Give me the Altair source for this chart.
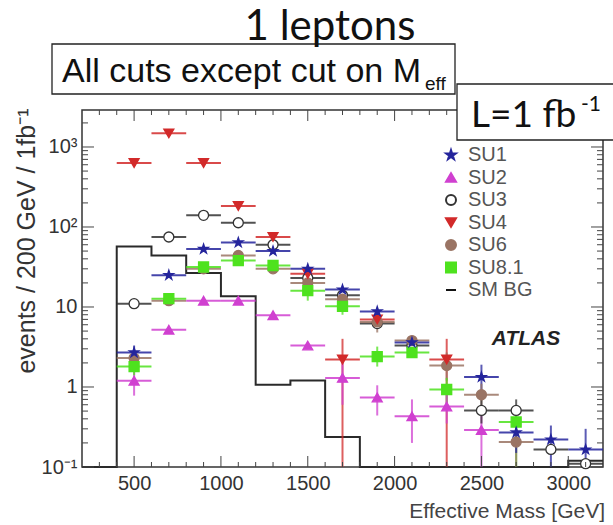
import altair as alt
import pandas as pd

# ---------------- data ----------------
bins = [500, 700, 900, 1100, 1300, 1500, 1700, 1900, 2100, 2300, 2500, 2700, 2900, 3100]
half_bin = 100

su1 = [2.7, 25, 53, 64, 50, 30, 16.5, 8.8, 3.6, None, 1.33, 0.27, 0.22, 0.165]
su2 = [1.2, 5.2, 12, 12, 7.9, 3.3, 1.3, 0.74, 0.43, 0.57, 0.29, None, None, None]
su3 = [11, 75, 140, 113, 60, 23, 14, 6.2, 3.3, None, 0.51, 0.51, 0.166, 0.11]
su4 = [630, 1480, 630, 183, 75, 26, 2.2, 7.0, None, 2.2, None, None, None, None]
su6 = [2.3, 12, 30, 44, 30, 20, 12.5, 6.5, 3.8, 1.85, 0.80, 0.205, None, None]
su81 = [1.8, 12.7, 31.6, 38, 33, 16, 10.2, 2.4, 2.7, 0.93, None, 0.365, None, None]

# vertical error bars: (series, bin centre, low, high)
verr_series = ["SU2", "SU1", "SU8.1", "SU8.1", "SU8.1", "SU4", "SU2", "SU6", "SU8.1", "SU2",
               "SU2", "SU4", "SU6", "SU8.1", "SU2", "SU1", "SU6", "SU2", "SU3", "SU3",
               "SU8.1", "SU6", "SU1", "SU1", "SU1"]
verr_x = [500, 500, 500, 1500, 1700, 1700, 1700, 1900, 1900, 1900,
          2100, 2300, 2300, 2300, 2300, 2500, 2500, 2500, 2500, 2700,
          2700, 2700, 2700, 2900, 3100]
verr_lo = [0.78, 2.2, 1.4, 12, 8, 0.1, 0.6, 4.8, 1.8, 0.44,
           0.2, 0.1, 1.2, 0.6, 0.35, 0.9, 0.5, 0.1, 0.35, 0.35,
           0.1, 0.1, 0.15, 0.1, 0.1]
verr_hi = [1.6, 3.3, 2.4, 21, 13, 4.0, 2.3, 8.5, 3.2, 1.05,
           0.7, 4.0, 2.7, 1.3, 0.9, 1.9, 1.1, 0.45, 0.75, 0.7,
           0.55, 0.3, 0.4, 0.33, 0.3]

# SM background histogram (bin edges, step-after)
bg_edges = [200, 400, 600, 800, 1000, 1200, 1400, 1600, 1800, 3000, 3200]
bg_values = [0.1, 57, 44, 26.6, 13.6, 1.07, 1.21, 0.237, 0.1, 0.12, 0.12]

series_names = ["SU1", "SU2", "SU3", "SU4", "SU6", "SU8.1", "SM BG"]
STAR = ("M0,-1L0.2245,-0.309L0.951,-0.309L0.363,0.118L0.588,0.809L0,0.382"
        "L-0.588,0.809L-0.363,0.118L-0.951,-0.309L-0.2245,-0.309Z")
shapes = [STAR, "triangle-up", "circle", "triangle-down", "circle", "square", "stroke"]
fills = ["#25259c", "#d040d0", "#ffffff", "#d22a2a", "#9a7464", "#4ee21e", "#111111"]
strokes = ["#25259c", "#d040d0", "#333333", "#d22a2a", "#9a7464", "#4ee21e", "#111111"]
sizes = [100, 100, 140, 100, 140, 130, 330]

x_major = [500, 1000, 1500, 2000, 2500, 3000]
x_minor = [v for v in range(300, 3200, 100) if v % 500 != 0]
y_major = [0.1, 1, 10, 100, 1000]
y_minor = [k * 10.0 ** e for e in range(-1, 4) for k in range(2, 10) if k * 10.0 ** e < 2900]

title_text = "1 leptons"
cut_text = "All cuts except cut on M"
cut_sub = "eff"
lumi_text = "L=1 fb"
lumi_sup = "-1"
ytitle_text = "events / 200 GeV / 1fb\u207b\u00b9"
xtitle_text = "Effective Mass [GeV]"
atlas_text = "ATLAS"

# ---------------- tables ----------------
draw_order = [("SU3", su3), ("SU6", su6), ("SU8.1", su81), ("SU2", su2), ("SU4", su4), ("SU1", su1)]
rows = []
for name, vals in draw_order:
    for b, v in zip(bins, vals):
        if v is not None:
            rows.append({"series": name, "x": b, "y": v, "xlo": b - half_bin, "xhi": b + half_bin})
pts = pd.DataFrame(rows)
verr = pd.DataFrame({"series": verr_series, "x": verr_x, "lo": verr_lo, "hi": verr_hi})
bg = pd.DataFrame({"x": bg_edges, "y": bg_values})

W, H = 521, 357

xscale = alt.Scale(domain=[200, 3200], nice=False, zero=False)
yscale = alt.Scale(type="log", domain=[0.1, 2900], nice=False)
xaxis = alt.Axis(values=x_major, title=None, ticks=False, domain=False, grid=False,
                 labelFont="Liberation Sans", labelFontSize=20, labelColor="#333",
                 labelPadding=6, format="d")
yaxis = alt.Axis(values=y_major, title=None, ticks=False, domain=False, grid=False,
                 labelFont="Liberation Sans", labelFontSize=20, labelColor="#333",
                 labelPadding=5,
                 labelExpr="datum.value >= 999 ? '10\u00b3' : datum.value >= 99 ? '10\u00b2' : "
                           "datum.value >= 9 ? '10' : datum.value >= 0.9 ? '1' : '10\u207b\u00b9'")

legend = alt.Legend(orient="none", legendX=359, legendY=35, title=None,
                    labelFont="Liberation Sans", labelFontSize=20, labelColor="#555",
                    rowPadding=2.5, labelOffset=7, symbolStrokeWidth=2, symbolOpacity=1,
                    padding=0)

def X(field):
    return alt.X(field, type="quantitative", scale=xscale, axis=xaxis)

def Y(field):
    return alt.Y(field, type="quantitative", scale=yscale, axis=yaxis)

stroke_enc = alt.Stroke("series:N", scale=alt.Scale(domain=series_names, range=strokes), legend=legend)

hist = alt.Chart(bg).mark_line(interpolate="step-after", color="#2a2a2a", strokeWidth=2).encode(
    x=X("x"), y=Y("y"))

herr = alt.Chart(pts).mark_rule(strokeWidth=2, opacity=0.85).encode(
    x=X("xlo"), x2="xhi", y=Y("y"), stroke=stroke_enc)

verr_layer = alt.Chart(verr).mark_rule(strokeWidth=2, opacity=0.75).encode(
    x=X("x"), y=Y("lo"), y2="hi", stroke=stroke_enc)

points = alt.Chart(pts).mark_point(filled=True, opacity=1, strokeWidth=1.3).encode(
    x=X("x"), y=Y("y"),
    shape=alt.Shape("series:N", scale=alt.Scale(domain=series_names, range=shapes), legend=legend),
    fill=alt.Fill("series:N", scale=alt.Scale(domain=series_names, range=fills), legend=legend),
    stroke=stroke_enc,
    size=alt.Size("series:N", scale=alt.Scale(domain=series_names, range=sizes), legend=legend),
)

# inward ticks on all four sides
ymaj_df = pd.DataFrame({"v": y_major})
ymin_df = pd.DataFrame({"v": y_minor})
xmaj_df = pd.DataFrame({"v": x_major})
xmin_df = pd.DataFrame({"v": x_minor})
tick_color = "#444"
ticks = [
    alt.Chart(ymaj_df).mark_rule(color=tick_color).encode(y=Y("v"), x=alt.value(0), x2=alt.value(12)),
    alt.Chart(ymin_df).mark_rule(color=tick_color).encode(y=Y("v"), x=alt.value(0), x2=alt.value(6)),
    alt.Chart(ymaj_df).mark_rule(color=tick_color).encode(y=Y("v"), x=alt.value(W - 12), x2=alt.value(W)),
    alt.Chart(ymin_df).mark_rule(color=tick_color).encode(y=Y("v"), x=alt.value(W - 6), x2=alt.value(W)),
    alt.Chart(xmaj_df).mark_rule(color=tick_color).encode(x=X("v"), y=alt.value(H), y2=alt.value(H - 11)),
    alt.Chart(xmin_df).mark_rule(color=tick_color).encode(x=X("v"), y=alt.value(H), y2=alt.value(H - 5)),
    alt.Chart(xmaj_df).mark_rule(color=tick_color).encode(x=X("v"), y=alt.value(0), y2=alt.value(11)),
    alt.Chart(xmin_df).mark_rule(color=tick_color).encode(x=X("v"), y=alt.value(0), y2=alt.value(5)),
]

def text_layer(txt, x, y, **kw):
    return alt.Chart(pd.DataFrame({"t": [txt]})).mark_text(**kw).encode(
        text="t:N", x=alt.value(x), y=alt.value(y))

def box_layer(x, x2, y, y2):
    return alt.Chart(pd.DataFrame({"a": [0]})).mark_rect(
        fill="white", stroke="#222", strokeWidth=1.3).encode(
        x=alt.value(x), x2=alt.value(x2), y=alt.value(y), y2=alt.value(y2))

annotations = [
    box_layer(-30, 373, -66, -16),
    text_layer(title_text, 248, -70, font="Lato", fontSize=42, align="center", baseline="alphabetic", color="#111"),
    text_layer(cut_text, -20, -28, font="Liberation Sans", fontSize=34, align="left", baseline="alphabetic", color="#111"),
    text_layer(cut_sub, 343, -20, font="Liberation Sans", fontSize=19, align="left", baseline="alphabetic", color="#111"),
    box_layer(375, 540, -26, 30),
    text_layer(lumi_text, 389, 17, font="Lato", fontSize=37, align="left", baseline="alphabetic", color="#111"),
    text_layer(lumi_sup, 499, 1, font="Lato", fontSize=21, align="left", baseline="alphabetic", color="#111"),
    text_layer(ytitle_text, -55, 131, font="Liberation Sans", fontSize=25, angle=270, align="center",
               baseline="middle", color="#333"),
    text_layer(xtitle_text, 523, 408, font="Liberation Sans", fontSize=21, align="right",
               baseline="alphabetic", color="#444"),
    text_layer(atlas_text, 444, 235, font="Liberation Sans", fontSize=21, fontStyle="italic",
               fontWeight="bold", align="center", baseline="alphabetic", color="#222"),
]

chart = alt.layer(hist, herr, verr_layer, points, *ticks, *annotations).properties(
    width=W, height=H,
    padding={"left": 82, "top": 110, "right": 10, "bottom": 58},
    autosize=alt.AutoSizeParams(type="none"),
    background="white",
).configure_view(stroke="#333", strokeWidth=1.5)

chart.save("out.html", embed_options={"renderer": "svg", "actions": False})
